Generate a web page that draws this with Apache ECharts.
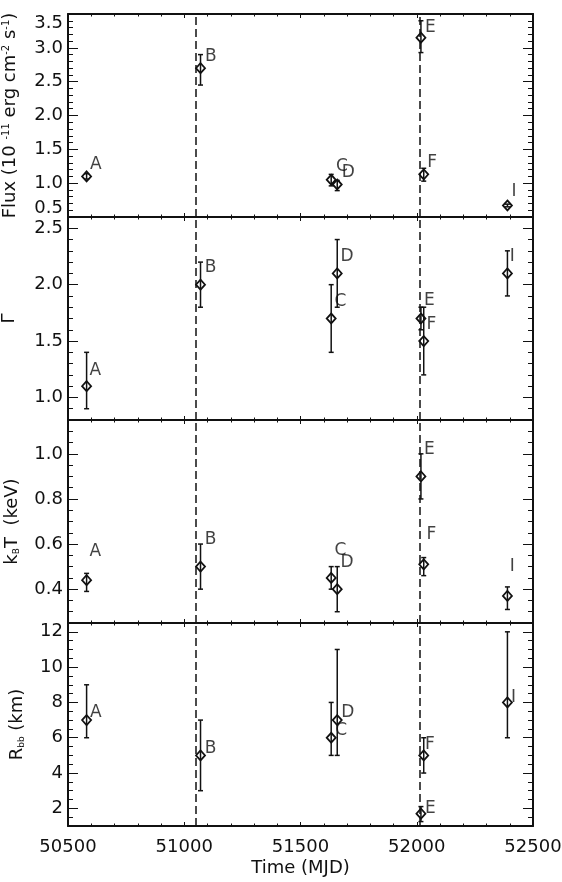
<!DOCTYPE html>
<html>
<head>
<meta charset="utf-8">
<script src="https://cdn.jsdelivr.net/npm/echarts@6/dist/echarts.min.js"></script>
<style>
  html, body { margin: 0; padding: 0; background: #fff; }
  #chart { width: 562px; height: 882px; }
</style>
</head>
<body>
<div id="chart"></div>
<script>
// observations
var obsNames = ['A', 'B', 'C', 'D', 'E', 'F', 'I'];
var obsMjd = [50580, 51070, 51632, 51658, 52018, 52030, 52390];
var dashMjd = [51050, 52015];

var flux = [1.10, 2.70, 1.05, 0.98, 3.15, 1.13, 0.67];
var fluxLo = [1.06, 2.45, 0.96, 0.89, 2.93, 1.03, 0.65];
var fluxHi = [1.14, 2.90, 1.13, 1.04, 3.40, 1.22, 0.69];

var gamma = [1.1, 2.0, 1.7, 2.1, 1.7, 1.5, 2.1];
var gammaLo = [0.9, 1.8, 1.4, 1.8, 1.6, 1.2, 1.9];
var gammaHi = [1.4, 2.2, 2.0, 2.4, 1.8, 1.8, 2.3];

var kT = [0.44, 0.50, 0.45, 0.40, 0.90, 0.51, 0.37];
var kTLo = [0.39, 0.40, 0.40, 0.30, 0.80, 0.46, 0.31];
var kTHi = [0.47, 0.60, 0.50, 0.50, 1.00, 0.54, 0.41];

var rbb = [7, 5, 6, 7, 1.7, 5, 8];
var rbbLo = [6, 3, 5, 5, 1.25, 4, 6];
var rbbHi = [9, 7, 8, 11, 2.1, 6, 12];

// where the letters sit (data coords)
var fluxLabX = [50595, 51089, 51653, 51677, 52035, 52045, 52408];
var fluxLabY = [1.28, 2.87, 1.24, 1.15, 3.30, 1.30, 0.87];
var gammaLabX = [50592, 51088, 51646, 51672, 52031, 52042, 52400];
var gammaLabY = [1.235, 2.15, 1.85, 2.25, 1.86, 1.65, 2.25];
var kTLabX = [50592, 51088, 51646, 51672, 52031, 52042, 52400];
var kTLabY = [0.565, 0.62, 0.57, 0.52, 1.02, 0.64, 0.50];
var rbbLabX = [50595, 51088, 51649, 51675, 52035, 52035, 52405];
var rbbLabY = [7.4, 5.4, 6.4, 7.4, 2.0, 5.6, 8.3];

// axes
var timeRange = [50500, 52500];
var fluxRange = [0.5, 3.5], fluxTicks = [0.5, 1.0, 1.5, 2.0, 2.5, 3.0, 3.5], fluxMinor = 0.1;
var gammaRange = [0.8, 2.6], gammaTicks = [1.0, 1.5, 2.0, 2.5], gammaMinor = 0.1;
var kTRange = [0.25, 1.15], kTTicks = [0.4, 0.6, 0.8, 1.0], kTMinor = 0.05;
var rbbRange = [1, 12.5], rbbTicks = [2, 4, 6, 8, 10, 12], rbbMinor = 0.5;

var FONT = 'DejaVu Sans';
var INK = '#111';
var MAJOR_LEN = 10, MINOR_LEN = 5;

var panels = [
  { y: flux, lo: fluxLo, hi: fluxHi, lx: fluxLabX, ly: fluxLabY, range: fluxRange, ticks: fluxTicks, minor: fluxMinor,
    name: 'Flux (10 {sup|-11} erg cm{sup|-2} s{sup|-1})', gap: 49, dec: 1 },
  { y: gamma, lo: gammaLo, hi: gammaHi, lx: gammaLabX, ly: gammaLabY, range: gammaRange, ticks: gammaTicks, minor: gammaMinor,
    name: 'Γ', gap: 50, dec: 1 },
  { y: kT, lo: kTLo, hi: kTHi, lx: kTLabX, ly: kTLabY, range: kTRange, ticks: kTTicks, minor: kTMinor,
    name: 'k{sub|B}T  (keV)', gap: 47, dec: 1 },
  { y: rbb, lo: rbbLo, hi: rbbHi, lx: rbbLabX, ly: rbbLabY, range: rbbRange, ticks: rbbTicks, minor: rbbMinor,
    name: 'R{sub|bb} (km)', gap: 42, dec: 0 }
];

var gridTops = [14, 217, 420, 623];
var CHART_W = 562, GRID_L = 68, GRID_R = 29, GRID_H = 203;
var GRID_W = CHART_W - GRID_L - GRID_R;
var grids = [], xAxes = [], yAxes = [], series = [];

function errRender(params, api) {
  var a = api.coord([api.value(0), api.value(1)]);
  var b = api.coord([api.value(0), api.value(2)]);
  var w = 2.5;
  var st = { stroke: INK, lineWidth: 1.5 };
  return { type: 'group', children: [
    { type: 'line', shape: { x1: a[0], y1: a[1], x2: b[0], y2: b[1] }, style: st },
    { type: 'line', shape: { x1: a[0] - w, y1: a[1], x2: a[0] + w, y2: a[1] }, style: st },
    { type: 'line', shape: { x1: b[0] - w, y1: b[1], x2: b[0] + w, y2: b[1] }, style: st }
  ]};
}

// main panels
panels.forEach(function (p, i) {
  grids.push({ left: GRID_L, width: GRID_W, top: gridTops[i], height: GRID_H, outerBoundsMode: 'none' });

  var last = i === panels.length - 1;
  ['bottom', 'top'].forEach(function (pos) {
    xAxes.push({
      type: 'value', gridIndex: i, position: pos,
      min: timeRange[0], max: timeRange[1], interval: 500,
      axisLine: { show: true, lineStyle: { color: INK, width: 2 } },
      axisTick: { show: true, inside: true, length: 4, lineStyle: { color: INK } },
      minorTick: { show: true, splitNumber: 5, length: 2.5, lineStyle: { color: INK } },
      splitLine: { show: false },
      axisLabel: {
        show: last && pos === 'bottom', margin: 12, color: INK, fontFamily: FONT, fontSize: 18,
        formatter: function (v) { return String(v); }
      },
      name: last && pos === 'bottom' ? 'Time (MJD)' : '',
      nameLocation: 'middle', nameGap: 33,
      nameTextStyle: { color: INK, fontFamily: FONT, fontSize: 18 }
    });
  });

  ['left', 'right'].forEach(function (pos) {
    var isLeft = pos === 'left';
    yAxes.push({
      type: 'value', gridIndex: i, position: pos,
      min: p.range[0], max: p.range[1],
      axisLine: { show: true, lineStyle: { color: INK, width: 2 } },
      axisTick: { show: false },
      splitLine: { show: false },
      axisLabel: {
        show: isLeft, customValues: p.ticks, margin: 5, color: INK, fontFamily: FONT, fontSize: 18,
        verticalAlignMaxLabel: i === 0 ? 'top' : null,
        verticalAlignMinLabel: i === 0 ? 'bottom' : null,
        formatter: function (v) { return v.toFixed(p.dec); }
      },
      name: isLeft ? p.name : '',
      nameLocation: 'middle', nameGap: p.gap,
      nameTextStyle: {
        color: INK, fontFamily: FONT, fontSize: 18,
        rich: {
          sup: { fontSize: 10, verticalAlign: 'top', color: INK, fontFamily: FONT },
          sub: { fontSize: 9, verticalAlign: 'bottom', color: INK, fontFamily: FONT }
        }
      }
    });
  });

  var xi = i * 2, yi = i * 2;
  series.push({
    type: 'custom', xAxisIndex: xi, yAxisIndex: yi, renderItem: errRender,
    encode: { x: 0, y: [1, 2] },
    data: obsMjd.map(function (m, k) { return [m, p.lo[k], p.hi[k]]; }),
    z: 2
  });
  series.push({
    type: 'scatter', xAxisIndex: xi, yAxisIndex: yi,
    symbol: 'diamond', symbolSize: [9, 10],
    itemStyle: { color: 'rgba(0,0,0,0)', borderColor: INK, borderWidth: 1.8, opacity: 1 },
    data: obsMjd.map(function (m, k) { return [m, p.y[k]]; }),
    markLine: {
      silent: true, symbol: ['none', 'none'], label: { show: false },
      lineStyle: { color: INK, width: 1.5, type: [8, 4] },
      data: dashMjd.map(function (m) { return { xAxis: m }; })
    },
    z: 3
  });
  series.push({
    type: 'scatter', xAxisIndex: xi, yAxisIndex: yi,
    symbolSize: 0,
    label: {
      show: true, position: 'right', distance: 0, color: INK, fontFamily: FONT, fontSize: 17,
      formatter: function (d) { return obsNames[d.dataIndex]; }
    },
    data: p.lx.map(function (m, k) { return [m, p.ly[k]]; }),
    z: 4
  });
});

// y tick marks: thin strips along the frame whose split lines are the ticks
function addTickStrip(left, width, top, height, lo, hi, step) {
  var g = grids.length;
  grids.push({ left: left, width: width, top: top, height: height, outerBoundsMode: 'none' });
  xAxes.push({ type: 'value', gridIndex: g, min: 0, max: 1, show: false });
  yAxes.push({
    type: 'value', gridIndex: g, min: lo, max: hi, interval: step,
    axisLine: { show: false }, axisTick: { show: false }, axisLabel: { show: false },
    splitLine: { show: true, lineStyle: { color: INK } }
  });
}

panels.forEach(function (p, i) {
  var span = p.range[1] - p.range[0];
  var tMin = p.ticks[0], tMax = p.ticks[p.ticks.length - 1];
  var majTop = gridTops[i] + (p.range[1] - tMax) / span * GRID_H;
  var majH = (tMax - tMin) / span * GRID_H;
  var majStep = p.ticks[1] - p.ticks[0];
  var rightEdge = GRID_L + GRID_W;
  // minor, full range (range min is a multiple of the step)
  addTickStrip(GRID_L, MINOR_LEN, gridTops[i], GRID_H, p.range[0], p.range[1], p.minor);
  addTickStrip(rightEdge - MINOR_LEN, MINOR_LEN, gridTops[i], GRID_H, p.range[0], p.range[1], p.minor);
  // major, from first to last labelled tick
  addTickStrip(GRID_L, MAJOR_LEN, majTop, majH, tMin, tMax, majStep);
  addTickStrip(rightEdge - MAJOR_LEN, MAJOR_LEN, majTop, majH, tMin, tMax, majStep);
});

var chart = echarts.init(document.getElementById('chart'), null, { renderer: 'canvas' });
chart.setOption({
  animation: false,
  backgroundColor: '#fff',
  grid: grids,
  xAxis: xAxes,
  yAxis: yAxes,
  series: series
});
</script>
</body>
</html>
